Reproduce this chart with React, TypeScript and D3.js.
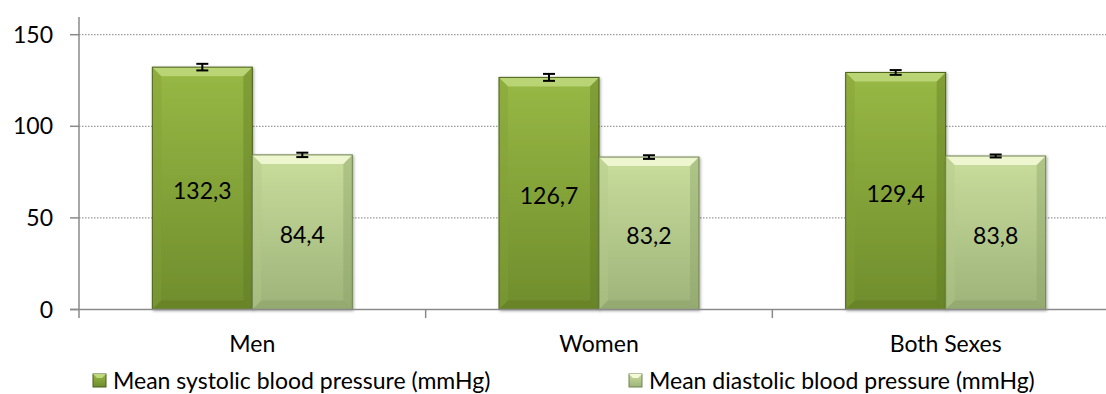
import * as d3 from 'd3';
import { useEffect, useRef } from 'react';

const categories = ['Men', 'Women', 'Both Sexes'];
const seriesNames = [
  'Mean systolic blood pressure (mmHg)',
  'Mean diastolic blood pressure (mmHg)',
];
const systolic = [132.3, 126.7, 129.4];
const diastolic = [84.4, 83.2, 83.8];
const systolicErr = [1.8, 1.9, 1.3];
const diastolicErr = [1.2, 1.0, 0.8];
const yTicks = [0, 50, 100, 150];

const W = 1106;
const H = 394;
const FONT = 'Lato, Carlito, Calibri, sans-serif';

// colours for each series
const palettes = [
  { bevel: '#bed97c', top: '#98b845', bottom: '#6f8d2c', side: '#829f38', low: '#5f7a24', stroke: '#4a5f1c' },
  { bevel: '#f4fad8', top: '#c9dd9c', bottom: '#9db379', side: '#b3c98a', low: '#8aa066', stroke: '#6f8450' },
];

export default function App() {
  const ref = useRef<SVGSVGElement>(null);

  useEffect(() => {
    if (!ref.current) return;
    const svg = d3.select(ref.current);
    svg.selectAll('*').remove();

    const left = 79;
    const y = d3.scaleLinear().domain([0, 150]).range([309.5, 34.7]);
    const x0 = d3
      .scaleBand<string>()
      .domain(categories)
      .range([left, 1119])
      .paddingInner(0.4231)
      .paddingOuter(0.2115);
    const x1 = d3.scaleBand<string>().domain(seriesNames).range([0, x0.bandwidth()]);

    const defs = svg.append('defs');
    palettes.forEach((p, i) => {
      const g = defs
        .append('linearGradient')
        .attr('id', `body${i}`)
        .attr('x1', 0)
        .attr('y1', 0)
        .attr('x2', 0)
        .attr('y2', 1);
      g.append('stop').attr('offset', '0%').attr('stop-color', p.top);
      g.append('stop').attr('offset', '100%').attr('stop-color', p.bottom);
    });
    const f = defs
      .append('filter')
      .attr('id', 'shadow')
      .attr('x', '-10%')
      .attr('y', '-10%')
      .attr('width', '120%')
      .attr('height', '120%');
    f.append('feDropShadow')
      .attr('dx', 1)
      .attr('dy', 1)
      .attr('stdDeviation', 1.5)
      .attr('flood-color', '#000')
      .attr('flood-opacity', 0.35);

    // gridlines + y axis ticks
    const grid = svg.append('g');
    yTicks.forEach((t) => {
      if (t > 0) {
        grid
          .append('line')
          .attr('x1', left)
          .attr('x2', W)
          .attr('y1', y(t))
          .attr('y2', y(t))
          .attr('stroke', '#808080')
          .attr('stroke-width', 1)
          .attr('stroke-dasharray', '1.5,1.5');
      }
      grid
        .append('line')
        .attr('x1', 70)
        .attr('x2', left)
        .attr('y1', y(t))
        .attr('y2', y(t))
        .attr('stroke', '#8a8a8a')
        .attr('stroke-width', 1.5);
      grid
        .append('text')
        .attr('x', 53)
        .attr('y', y(t))
        .attr('dy', '0.35em')
        .attr('text-anchor', 'end')
        .attr('font-family', FONT)
        .attr('font-size', 23)
        .attr('fill', '#000')
        .text(t);
    });

    // bars
    const drawBar = (gx: number, bw: number, value: number, pi: number) => {
      const p = palettes[pi];
      const top = y(value);
      const bot = y(0);
      const b = 9;
      const g = svg.append('g').attr('filter', 'url(#shadow)');
      g.append('rect')
        .attr('x', gx)
        .attr('y', top)
        .attr('width', bw)
        .attr('height', bot - top)
        .attr('fill', `url(#body${pi})`);
      const pts = (arr: number[][]) => arr.map((d) => d.join(',')).join(' ');
      // top bevel
      g.append('polygon')
        .attr('points', pts([[gx, top], [gx + bw, top], [gx + bw - b, top + b], [gx + b, top + b]]))
        .attr('fill', p.bevel)
        .attr('opacity', 0.85);
      // left bevel
      g.append('polygon')
        .attr('points', pts([[gx, top], [gx + b, top + b], [gx + b, bot - b], [gx, bot]]))
        .attr('fill', p.side)
        .attr('opacity', 0.4);
      // right bevel
      g.append('polygon')
        .attr('points', pts([[gx + bw, top], [gx + bw - b, top + b], [gx + bw - b, bot - b], [gx + bw, bot]]))
        .attr('fill', p.low)
        .attr('opacity', 0.4);
      // bottom bevel
      g.append('polygon')
        .attr('points', pts([[gx, bot], [gx + b, bot - b], [gx + bw - b, bot - b], [gx + bw, bot]]))
        .attr('fill', p.low)
        .attr('opacity', 0.5);
      g.append('rect')
        .attr('x', gx)
        .attr('y', top)
        .attr('width', bw)
        .attr('height', bot - top)
        .attr('fill', 'none')
        .attr('stroke', p.stroke)
        .attr('stroke-width', 1);
    };

    const series = [
      { name: seriesNames[0], values: systolic, errs: systolicErr },
      { name: seriesNames[1], values: diastolic, errs: diastolicErr },
    ];

    series.forEach((s, si) => {
      categories.forEach((c, ci) => {
        const gx = (x0(c) ?? 0) + (x1(s.name) ?? 0);
        drawBar(gx, x1.bandwidth(), s.values[ci], si);
      });
    });

    // error bars + data labels
    series.forEach((s, si) => {
      categories.forEach((c, ci) => {
        const cx = (x0(c) ?? 0) + (x1(s.name) ?? 0) + x1.bandwidth() / 2;
        const v = s.values[ci];
        const e = s.errs[ci];
        const eb = svg.append('g').attr('stroke', '#000').attr('stroke-width', 2);
        eb.append('line').attr('x1', cx).attr('x2', cx).attr('y1', y(v - e)).attr('y2', y(v + e));
        eb.append('line').attr('x1', cx - 6).attr('x2', cx + 6).attr('y1', y(v - e)).attr('y2', y(v - e));
        eb.append('line').attr('x1', cx - 6).attr('x2', cx + 6).attr('y1', y(v + e)).attr('y2', y(v + e));

        svg
          .append('text')
          .attr('x', cx)
          .attr('y', (y(v) + y(0)) / 2 + 3)
          .attr('dy', '0.35em')
          .attr('text-anchor', 'middle')
          .attr('font-family', FONT)
          .attr('font-size', 23)
          .attr('fill', '#000')
          .text(d3.format('.1f')(v).replace('.', ','));
      });
    });

    // axes lines
    svg
      .append('line')
      .attr('x1', left)
      .attr('x2', left)
      .attr('y1', 17)
      .attr('y2', 318)
      .attr('stroke', '#8a8a8a')
      .attr('stroke-width', 1.5);
    svg
      .append('line')
      .attr('x1', 70)
      .attr('x2', W)
      .attr('y1', y(0))
      .attr('y2', y(0))
      .attr('stroke', '#8a8a8a')
      .attr('stroke-width', 1.5);
    categories.forEach((c, i) => {
      if (i > 0) {
        const tx = (x0(c) ?? 0) - (x0.step() - x0.bandwidth()) / 2;
        svg
          .append('line')
          .attr('x1', tx)
          .attr('x2', tx)
          .attr('y1', y(0))
          .attr('y2', 318)
          .attr('stroke', '#8a8a8a')
          .attr('stroke-width', 1.5);
      }
      svg
        .append('text')
        .attr('x', (x0(c) ?? 0) + x0.bandwidth() / 2)
        .attr('y', 352)
        .attr('text-anchor', 'middle')
        .attr('font-family', FONT)
        .attr('font-size', 23)
        .attr('fill', '#000')
        .text(c);
    });

    // legend
    const legendX = [93, 629];
    seriesNames.forEach((n, i) => {
      const p = palettes[i];
      const lg = svg.append('g').attr('transform', `translate(${legendX[i]},374)`);
      lg.append('rect').attr('width', 13).attr('height', 13).attr('fill', `url(#body${i})`).attr('stroke', p.stroke);
      lg.append('polygon').attr('points', '0,0 13,0 9,4 4,4').attr('fill', p.bevel);
      lg.append('text')
        .attr('x', 20)
        .attr('y', 6.5)
        .attr('dy', '0.35em')
        .attr('font-family', FONT)
        .attr('font-size', 23)
        .attr('fill', '#000')
        .text(n);
    });
  }, []);

  return (
    <svg
      ref={ref}
      width={W}
      height={H}
      style={{ position: 'absolute', left: 0, top: 0, background: '#fff' }}
    />
  );
}
